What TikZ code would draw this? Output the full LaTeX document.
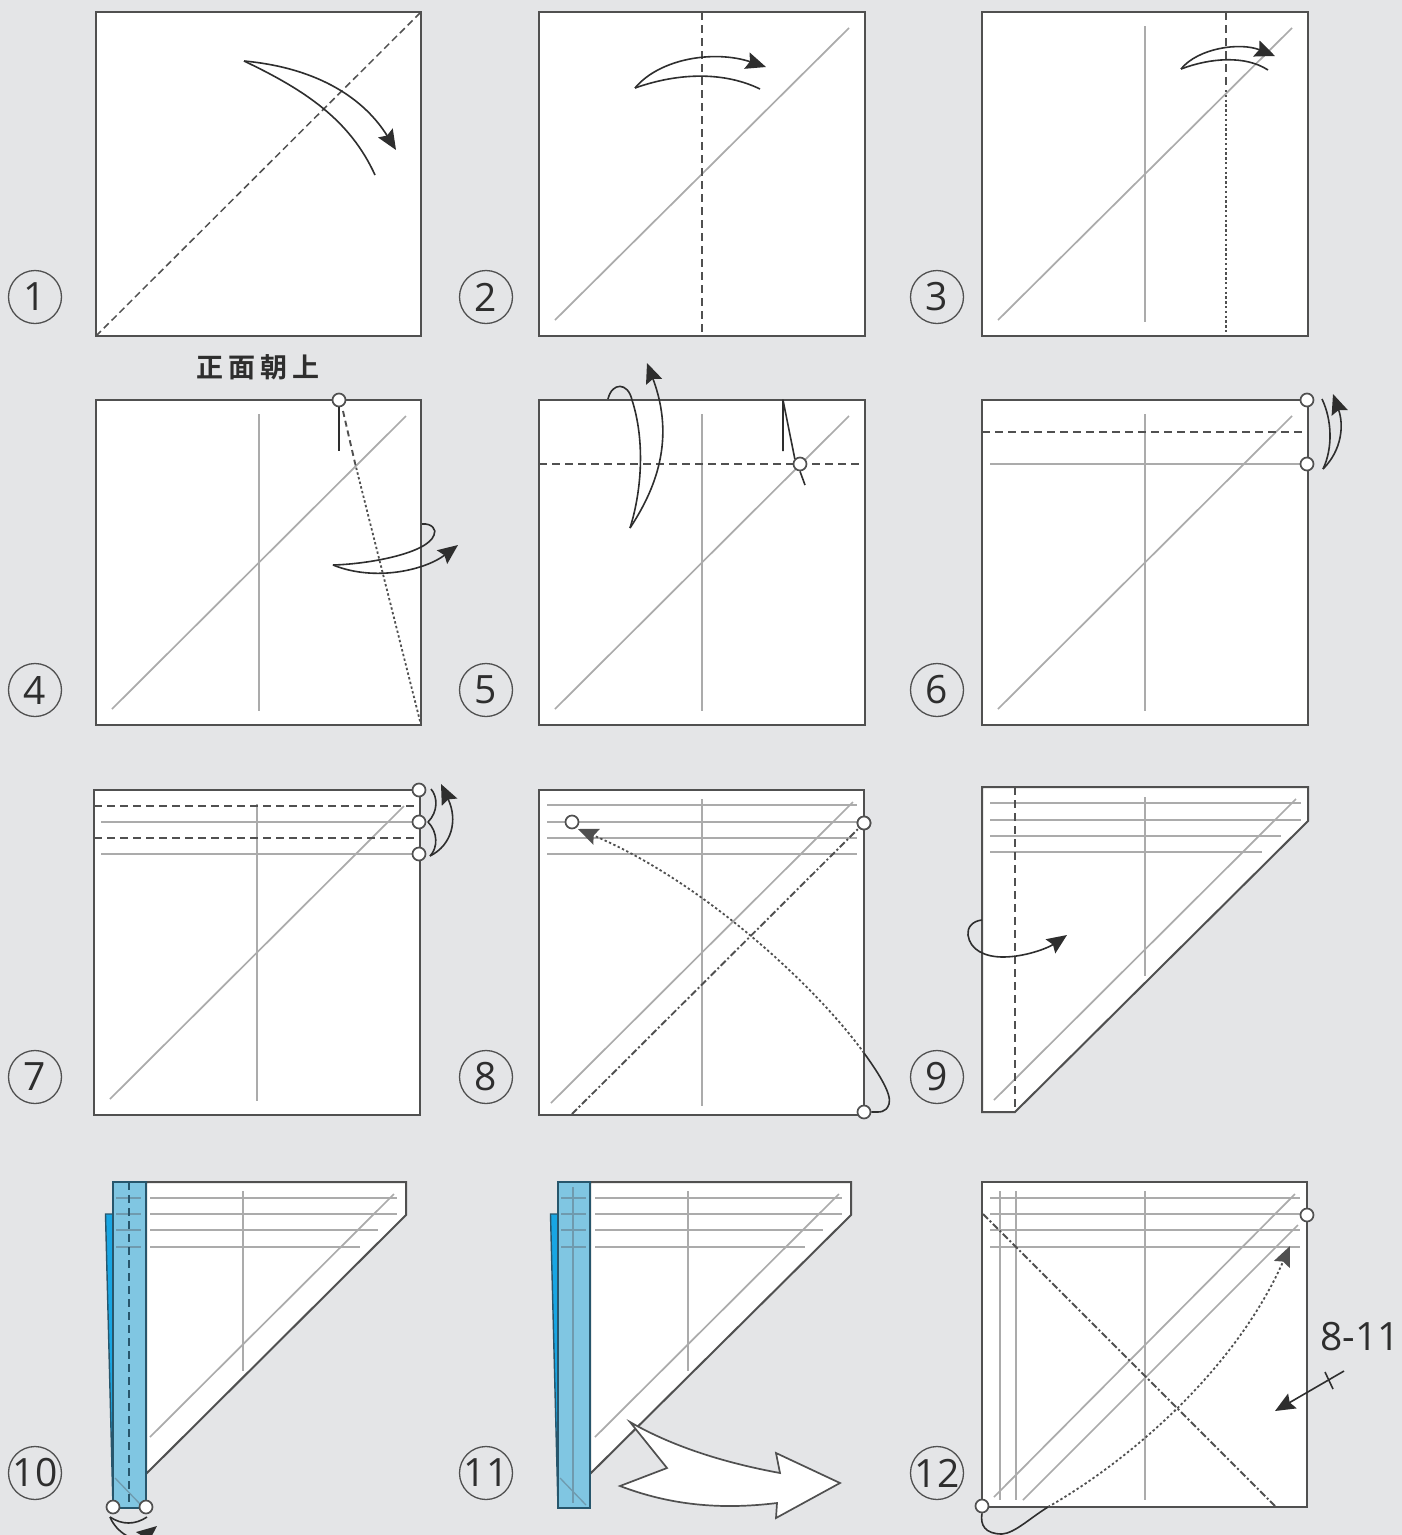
\documentclass[tikz,border=0pt]{standalone}
\usepackage{fontspec}
\setmainfont{Open Sans}
\newfontfamily\cjkfont[BoldFont={Noto Sans CJK TC Bold}]{Noto Sans CJK TC}
\usetikzlibrary{arrows.meta}
\definecolor{pagebg}{HTML}{E4E5E7}
\definecolor{edgecol}{HTML}{505050}
\definecolor{creasecol}{HTML}{ABABAB}
\definecolor{inkcol}{HTML}{2E2E2E}
\definecolor{flapcol}{HTML}{80C6E2}
\definecolor{backcol}{HTML}{18A6E3}
\definecolor{bluedark}{HTML}{27566C}
\definecolor{bluecrease}{HTML}{6F9AAE}
\tikzset{
  bigtip/.tip={Stealth[length=20pt,width=17pt,inset=3pt]},
  sheet/.style={draw=edgecol,fill=white,line width=2pt,line join=miter},
  crease/.style={draw=creasecol,line width=1.7pt},
  valley/.style={draw=edgecol,line width=1.9pt,dash pattern=on 8pt off 5pt},
  fine/.style={draw=edgecol,line width=1.8pt,dash pattern=on 2.4pt off 2.4pt},
  mixed/.style={draw=edgecol,line width=1.9pt,dash pattern=on 7pt off 2.5pt on 2pt off 2.5pt},
  mover/.style={draw=inkcol,line width=1.6pt,line join=round},
  tipped/.style={mover,-bigtip},
  pinmark/.style={circle,draw=edgecol,fill=white,line width=1.7pt,minimum size=13pt,inner sep=0pt},
  stepmark/.style={circle,draw=edgecol,line width=1.3pt,minimum size=53pt,inner sep=0pt,text=inkcol,font=\fontsize{39}{39}\selectfont},
  flap/.style={draw=bluedark,fill=flapcol,line width=2pt},
  backflap/.style={draw=bluedark,fill=backcol,line width=1.4pt},
}
\begin{document}
\begin{tikzpicture}[x=1pt,y=-1pt]
\useasboundingbox (0,0) rectangle (1402,1535);
\fill[pagebg] (0,0) rectangle (1402,1535);

% step marks
\node[stepmark] (s1) at (35,297) {1};
\node[stepmark] (s2) at (486,297) {2};
\node[stepmark] (s3) at (937,297) {3};
\node[stepmark] (s4) at (35,690) {4};
\node[stepmark] (s5) at (486,690) {5};
\node[stepmark] (s6) at (937,690) {6};
\node[stepmark] (s7) at (35,1077) {7};
\node[stepmark] (s8) at (486,1077) {8};
\node[stepmark] (s9) at (937,1077) {9};
\node[stepmark] (s10) at (35,1473) {10};
\node[stepmark] (s11) at (486,1473) {11};
\node[stepmark] (s12) at (937,1473) {12};

% panel 1
\draw[sheet] (96,12) rectangle (421,336);
\draw[draw=edgecol,line width=1.5pt,dash pattern=on 7pt off 4pt] (96,336) -- (421,12);
\draw[mover] (244,61) .. controls (305,90) and (350,120) .. (375,175);
\draw[tipped] (244,61) .. controls (320,68) and (365,100) .. (396,150);

% panel 2
\draw[sheet] (539,12) rectangle (865,336);
\draw[crease] (555,320) -- (849,28);
\draw[valley] (702,12) -- (702,336);
\draw[mover] (635,88) .. controls (680,72) and (725,72) .. (760,89);
\draw[tipped] (635,88) .. controls (660,58) and (715,50) .. (766,67);

% panel 3
\draw[sheet] (982,12) rectangle (1308,336);
\draw[crease] (998,320) -- (1292,28);
\draw[crease] (1145,26) -- (1145,322);
\draw[valley] (1226,12) -- (1226,86);
\draw[fine] (1226,90) -- (1226,336);
\draw[mover] (1181,69) .. controls (1210,58) and (1245,55) .. (1268,70);
\draw[tipped] (1181,69) .. controls (1198,48) and (1240,42) .. (1275,56);

% panel 4
\node[font=\cjkfont\bfseries\fontsize{27}{27}\selectfont,text=inkcol] (t4) at (258,367) {正\hspace{5pt}面\hspace{5pt}朝\hspace{5pt}上};
\draw[sheet] (96,400) rectangle (421,725);
\draw[crease] (112,709) -- (406,416);
\draw[crease] (259,414) -- (259,711);
\node[pinmark] (p4) at (339,400) {};
\draw[mover] (p4.south) -- (339,451);
\draw[valley,dash pattern=on 6pt off 4pt] (343,411) -- (355,463);
\draw[fine] (355,463) -- (421,725);
\draw[mover] (422,524) .. controls (432,523) and (437,530) .. (434,535) .. controls (428,553) and (370,564) .. (333,565);
\draw[tipped] (333,565) .. controls (375,582) and (425,570) .. (458,545);

% panel 5
\draw[sheet] (539,400) rectangle (865,725);
\draw[crease] (555,709) -- (849,416);
\draw[crease] (702,414) -- (702,711);
\draw[valley] (539,464) -- (865,464);
\node[pinmark] (p5) at (800,464) {};
\draw[mover] (783,451) -- (783,400) -- (p5.north west);
\draw[mover] (p5.south) -- (805,485);
\draw[mover] (630,528) .. controls (642,490) and (645,440) .. (632,400) .. controls (628,382) and (612,382) .. (608,399);
\draw[tipped] (630,528) .. controls (655,490) and (676,440) .. (647,363);

% panel 6
\draw[sheet] (982,400) rectangle (1308,725);
\draw[crease] (998,709) -- (1292,416);
\draw[crease] (1145,414) -- (1145,711);
\draw[crease] (990,464) -- (1308,464);
\draw[valley] (982,432) -- (1308,432);
\node[pinmark] (p6a) at (1307,400) {};
\node[pinmark] (p6b) at (1307,464) {};
\draw[mover] (1322,399) .. controls (1332,420) and (1333,448) .. (1323,469);
\draw[tipped] (1323,469) .. controls (1342,450) and (1344,425) .. (1333,394);

% panel 7
\draw[sheet] (94,790) rectangle (420,1115);
\draw[crease] (110,1099) -- (404,806);
\draw[crease] (257,804) -- (257,1101);
\draw[crease] (101,822) -- (420,822);
\draw[crease] (101,854) -- (420,854);
\draw[valley] (94,806) -- (420,806);
\draw[valley] (94,838) -- (420,838);
\node[pinmark] (p7a) at (419,790) {};
\node[pinmark] (p7b) at (419,822) {};
\node[pinmark] (p7c) at (419,854) {};
\draw[mover] (431,789) .. controls (438,797) and (438,812) .. (428,822) .. controls (438,832) and (438,848) .. (430,856);
\draw[tipped] (430,856) .. controls (452,845) and (458,820) .. (441,784);

% panel 8
\draw[sheet] (539,790) rectangle (864,1115);
\foreach \yy in {805,822,838,854} \draw[crease] (547,\yy) -- (857,\yy);
\draw[crease] (702,799) -- (702,1106);
\draw[crease] (551,1103) -- (853,802);
\node[pinmark] (p8a) at (572,822) {};
\node[pinmark] (p8b) at (864,823) {};
\node[pinmark] (p8c) at (864,1112) {};
\coordinate (f8) at (864,1053);
\draw[mixed] (572,1114) -- (p8b);
\node[pinmark] at (p8b) {};
\draw[fine,-bigtip] (f8) .. controls (815,985) and (700,880) .. (578,829);
\draw[mover] (f8) .. controls (880,1075) and (892,1095) .. (889,1104) .. controls (886,1113) and (880,1112) .. (p8c.east);

% panel 9
\draw[sheet] (982,787) -- (1308,787) -- (1308,821) -- (1015,1112) -- (982,1112) -- cycle;
\draw[crease] (990,803) -- (1301,803);
\draw[crease] (990,820) -- (1301,820);
\draw[crease] (990,836) -- (1281,836);
\draw[crease] (990,852) -- (1262,852);
\draw[crease] (1145,797) -- (1145,976);
\draw[crease] (994,1100) -- (1296,799);
\draw[valley] (1015,787) -- (1015,1112);
\draw[tipped] (982,920) .. controls (972,921) and (967,928) .. (968,935) .. controls (970,950) and (985,957) .. (1003,957) .. controls (1025,957) and (1048,948) .. (1067,935);

% panel 10
\draw[sheet] (146,1182) -- (406,1182) -- (406,1215) -- (146,1474) -- cycle;
\draw[crease] (150,1198) -- (397,1198);
\draw[crease] (150,1214) -- (397,1214);
\draw[crease] (150,1230) -- (378,1230);
\draw[crease] (150,1247) -- (360,1247);
\draw[crease] (243,1191) -- (243,1371);
\draw[crease] (150,1437) -- (394,1194);
\draw[backflap] (113,1214) -- (105.5,1214) -- (113,1508) -- cycle;
\draw[flap] (113,1182) rectangle (146,1508);
\foreach \yy in {1198,1214,1230,1247} \draw[draw=bluecrease,line width=1.5pt] (116,\yy) -- (141,\yy);
\draw[draw=bluecrease,line width=1.3pt] (115,1478) -- (141,1505);
\draw[draw=bluedark,line width=1.7pt,dash pattern=on 8pt off 5pt] (129,1182) -- (129,1508);
\node[pinmark] (p10a) at (113,1507) {};
\node[pinmark] (p10b) at (146,1507) {};
\draw[mover] (110,1517) .. controls (122,1525) and (135,1525) .. (147,1517);
\draw[tipped] (110,1517) .. controls (116,1532) and (135,1544) .. (157,1526);

% panel 11
\draw[sheet] (590,1182) -- (851,1182) -- (851,1215) -- (590,1474) -- cycle;
\draw[crease] (595,1198) -- (842,1198);
\draw[crease] (595,1214) -- (842,1214);
\draw[crease] (595,1230) -- (823,1230);
\draw[crease] (595,1247) -- (805,1247);
\draw[crease] (688,1191) -- (688,1371);
\draw[crease] (595,1437) -- (839,1194);
\draw[backflap] (558,1214) -- (550.5,1214) -- (558,1508) -- cycle;
\draw[flap] (557.5,1182) rectangle (590,1508);
\foreach \yy in {1198,1214,1230,1247} \draw[draw=bluecrease,line width=1.5pt] (561,\yy) -- (586,\yy);
\draw[draw=bluecrease,line width=1.3pt] (560,1478) -- (586,1505);
\draw[draw=bluecrease,line width=1.4pt] (573,1187) -- (573,1503);
\draw[sheet,line width=1.7pt] (630,1422) .. controls (670,1445) and (720,1462) .. (780,1473) -- (776,1453) -- (840,1483) -- (776,1518) -- (777,1503) .. controls (720,1510) and (670,1505) .. (620,1486) -- (667,1468) -- cycle;

% panel 12
\draw[sheet] (982,1182) rectangle (1307,1507);
\foreach \yy in {1198,1214,1230,1247} \draw[crease] (990,\yy) -- (1300,\yy);
\draw[crease] (1000,1191) -- (1000,1500);
\draw[crease] (1016,1191) -- (1016,1500);
\draw[crease] (1145,1191) -- (1145,1500);
\draw[crease] (994,1497) -- (1295,1194);
\draw[crease] (1023,1500) -- (1298,1225);
\draw[mixed] (983,1214) -- (1276,1507);
\node[pinmark] (p12a) at (1307,1215) {};
\node[pinmark] (p12b) at (982,1506) {};
\coordinate (f12) at (1048,1507);
\draw[fine,-bigtip] (f12) .. controls (1130,1460) and (1235,1370) .. (1290,1246);
\draw[mover] (p12b.south) .. controls (980,1525) and (985,1534) .. (1002,1534) .. controls (1015,1533) and (1030,1518) .. (f12);
\node[text=inkcol,font=\fontsize{39}{39}\selectfont] (t12) at (1360,1337) {8-11};
\coordinate (a12s) at (1344,1371);
\coordinate (a12e) at (1275,1411);
\draw[tipped] (a12s) -- (a12e);
\coordinate (k12a) at (1325,1372);
\coordinate (k12b) at (1333,1389);
\draw[mover] (k12a) -- (k12b);
\end{tikzpicture}
\end{document}
